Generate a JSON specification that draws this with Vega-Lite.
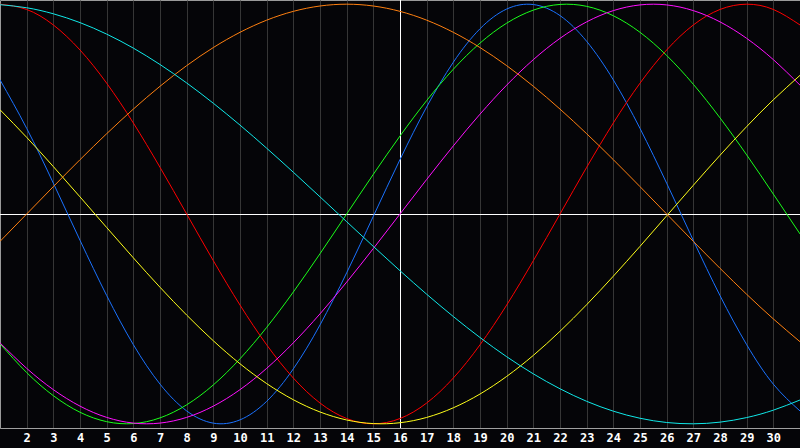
{
  "$schema": "https://vega.github.io/schema/vega-lite/v6.json",
  "width": 800,
  "height": 428,
  "autosize": {"type": "none"},
  "padding": {"left": 0, "top": 0, "right": 0, "bottom": 20},
  "background": "#050508",
  "config": {
    "view": {"stroke": "#9a9a9a", "strokeWidth": 1, "fill": "#050508"},
    "axisX": {
      "title": null, "ticks": false, "grid": true, "gridColor": "#363636", "gridWidth": 1,
      "domain": true, "domainColor": "#a0a0a0", "labelOverlap": false,
      "labelColor": "#ffffff", "labelFont": "DejaVu Sans Mono", "labelFontWeight": "bold",
      "labelFontSize": 12, "labelPadding": 4, "labelFlush": false, "zindex": 0, "tickCount": 30
    }
  },
  "datasets": {
    "bio": [
      {"d":1,"c":"Physical","v":0.6395},{"d":2,"c":"Physical","v":0.4083},{"d":3,"c":"Physical","v":0.1470},{"d":4,"c":"Physical","v":-0.1253},{"d":5,"c":"Physical","v":-0.3884},{"d":6,"c":"Physical","v":-0.6226},{"d":7,"c":"Physical","v":-0.8107},{"d":8,"c":"Physical","v":-0.9386},{"d":9,"c":"Physical","v":-0.9969},{"d":10,"c":"Physical","v":-0.9812},{"d":11,"c":"Physical","v":-0.8929},{"d":12,"c":"Physical","v":-0.7382},{"d":13,"c":"Physical","v":-0.5287},{"d":14,"c":"Physical","v":-0.2801},{"d":15,"c":"Physical","v":-0.0107},{"d":16,"c":"Physical","v":0.2595},{"d":17,"c":"Physical","v":0.5105},{"d":18,"c":"Physical","v":0.7235},{"d":19,"c":"Physical","v":0.8829},{"d":20,"c":"Physical","v":0.9769},{"d":21,"c":"Physical","v":0.9983},{"d":22,"c":"Physical","v":0.9457},{"d":23,"c":"Physical","v":0.8230},{"d":24,"c":"Physical","v":0.6392},{"d":25,"c":"Physical","v":0.4080},{"d":26,"c":"Physical","v":0.1466},{"d":27,"c":"Physical","v":-0.1258},{"d":28,"c":"Physical","v":-0.3889},{"d":29,"c":"Physical","v":-0.6229},{"d":30,"c":"Physical","v":-0.8110},{"d":31,"c":"Physical","v":-0.9388},
      {"d":1,"c":"Emotional","v":1.0},{"d":2,"c":"Emotional","v":0.9749},{"d":3,"c":"Emotional","v":0.9010},{"d":4,"c":"Emotional","v":0.7818},{"d":5,"c":"Emotional","v":0.6235},{"d":6,"c":"Emotional","v":0.4339},{"d":7,"c":"Emotional","v":0.2225},{"d":8,"c":"Emotional","v":0.0},{"d":9,"c":"Emotional","v":-0.2225},{"d":10,"c":"Emotional","v":-0.4339},{"d":11,"c":"Emotional","v":-0.6235},{"d":12,"c":"Emotional","v":-0.7818},{"d":13,"c":"Emotional","v":-0.9010},{"d":14,"c":"Emotional","v":-0.9749},{"d":15,"c":"Emotional","v":-1.0},{"d":16,"c":"Emotional","v":-0.9749},{"d":17,"c":"Emotional","v":-0.9010},{"d":18,"c":"Emotional","v":-0.7818},{"d":19,"c":"Emotional","v":-0.6235},{"d":20,"c":"Emotional","v":-0.4339},{"d":21,"c":"Emotional","v":-0.2225},{"d":22,"c":"Emotional","v":0.0},{"d":23,"c":"Emotional","v":0.2225},{"d":24,"c":"Emotional","v":0.4339},{"d":25,"c":"Emotional","v":0.6235},{"d":26,"c":"Emotional","v":0.7818},{"d":27,"c":"Emotional","v":0.9010},{"d":28,"c":"Emotional","v":0.9749},{"d":29,"c":"Emotional","v":1.0},{"d":30,"c":"Emotional","v":0.9749},{"d":31,"c":"Emotional","v":0.9010},
      {"d":1,"c":"Intellectual","v":-0.6182},{"d":2,"c":"Intellectual","v":-0.7557},{"d":3,"c":"Intellectual","v":-0.8660},{"d":4,"c":"Intellectual","v":-0.9450},{"d":5,"c":"Intellectual","v":-0.9898},{"d":6,"c":"Intellectual","v":-0.9989},{"d":7,"c":"Intellectual","v":-0.9718},{"d":8,"c":"Intellectual","v":-0.9096},{"d":9,"c":"Intellectual","v":-0.8146},{"d":10,"c":"Intellectual","v":-0.6901},{"d":11,"c":"Intellectual","v":-0.5406},{"d":12,"c":"Intellectual","v":-0.3717},{"d":13,"c":"Intellectual","v":-0.1893},{"d":14,"c":"Intellectual","v":0.0},{"d":15,"c":"Intellectual","v":0.1893},{"d":16,"c":"Intellectual","v":0.3717},{"d":17,"c":"Intellectual","v":0.5406},{"d":18,"c":"Intellectual","v":0.6901},{"d":19,"c":"Intellectual","v":0.8146},{"d":20,"c":"Intellectual","v":0.9096},{"d":21,"c":"Intellectual","v":0.9718},{"d":22,"c":"Intellectual","v":0.9989},{"d":23,"c":"Intellectual","v":0.9898},{"d":24,"c":"Intellectual","v":0.9450},{"d":25,"c":"Intellectual","v":0.8660},{"d":26,"c":"Intellectual","v":0.7557},{"d":27,"c":"Intellectual","v":0.6182},{"d":28,"c":"Intellectual","v":0.4582},{"d":29,"c":"Intellectual","v":0.2817},{"d":30,"c":"Intellectual","v":0.0950},{"d":31,"c":"Intellectual","v":-0.0950},
      {"d":1,"c":"Intuitive","v":-0.6142},{"d":2,"c":"Intuitive","v":-0.7357},{"d":3,"c":"Intuitive","v":-0.8372},{"d":4,"c":"Intuitive","v":-0.9158},{"d":5,"c":"Intuitive","v":-0.9694},{"d":6,"c":"Intuitive","v":-0.9966},{"d":7,"c":"Intuitive","v":-0.9966},{"d":8,"c":"Intuitive","v":-0.9694},{"d":9,"c":"Intuitive","v":-0.9158},{"d":10,"c":"Intuitive","v":-0.8372},{"d":11,"c":"Intuitive","v":-0.7357},{"d":12,"c":"Intuitive","v":-0.6142},{"d":13,"c":"Intuitive","v":-0.4759},{"d":14,"c":"Intuitive","v":-0.3247},{"d":15,"c":"Intuitive","v":-0.1646},{"d":16,"c":"Intuitive","v":0.0},{"d":17,"c":"Intuitive","v":0.1646},{"d":18,"c":"Intuitive","v":0.3247},{"d":19,"c":"Intuitive","v":0.4759},{"d":20,"c":"Intuitive","v":0.6142},{"d":21,"c":"Intuitive","v":0.7357},{"d":22,"c":"Intuitive","v":0.8372},{"d":23,"c":"Intuitive","v":0.9158},{"d":24,"c":"Intuitive","v":0.9694},{"d":25,"c":"Intuitive","v":0.9966},{"d":26,"c":"Intuitive","v":0.9966},{"d":27,"c":"Intuitive","v":0.9694},{"d":28,"c":"Intuitive","v":0.9158},{"d":29,"c":"Intuitive","v":0.8372},{"d":30,"c":"Intuitive","v":0.7357},{"d":31,"c":"Intuitive","v":0.6142},
      {"d":1,"c":"Aesthetic","v":0.4970},{"d":2,"c":"Aesthetic","v":0.3654},{"d":3,"c":"Aesthetic","v":0.2260},{"d":4,"c":"Aesthetic","v":0.0816},{"d":5,"c":"Aesthetic","v":-0.0644},{"d":6,"c":"Aesthetic","v":-0.2089},{"d":7,"c":"Aesthetic","v":-0.3491},{"d":8,"c":"Aesthetic","v":-0.4818},{"d":9,"c":"Aesthetic","v":-0.6043},{"d":10,"c":"Aesthetic","v":-0.7139},{"d":11,"c":"Aesthetic","v":-0.8082},{"d":12,"c":"Aesthetic","v":-0.8853},{"d":13,"c":"Aesthetic","v":-0.9436},{"d":14,"c":"Aesthetic","v":-0.9818},{"d":15,"c":"Aesthetic","v":-0.9990},{"d":16,"c":"Aesthetic","v":-0.9949},{"d":17,"c":"Aesthetic","v":-0.9697},{"d":18,"c":"Aesthetic","v":-0.9237},{"d":19,"c":"Aesthetic","v":-0.8581},{"d":20,"c":"Aesthetic","v":-0.7741},{"d":21,"c":"Aesthetic","v":-0.6739},{"d":22,"c":"Aesthetic","v":-0.5590},{"d":23,"c":"Aesthetic","v":-0.4322},{"d":24,"c":"Aesthetic","v":-0.2964},{"d":25,"c":"Aesthetic","v":-0.1542},{"d":26,"c":"Aesthetic","v":-0.0087},{"d":27,"c":"Aesthetic","v":0.1369},{"d":28,"c":"Aesthetic","v":0.2798},{"d":29,"c":"Aesthetic","v":0.4166},{"d":30,"c":"Aesthetic","v":0.5444},{"d":31,"c":"Aesthetic","v":0.6609},
      {"d":1,"c":"Awareness","v":-0.1305},{"d":2,"c":"Awareness","v":0.0},{"d":3,"c":"Awareness","v":0.1305},{"d":4,"c":"Awareness","v":0.2588},{"d":5,"c":"Awareness","v":0.3827},{"d":6,"c":"Awareness","v":0.5},{"d":7,"c":"Awareness","v":0.6088},{"d":8,"c":"Awareness","v":0.7071},{"d":9,"c":"Awareness","v":0.7934},{"d":10,"c":"Awareness","v":0.8660},{"d":11,"c":"Awareness","v":0.9239},{"d":12,"c":"Awareness","v":0.9659},{"d":13,"c":"Awareness","v":0.9914},{"d":14,"c":"Awareness","v":1.0},{"d":15,"c":"Awareness","v":0.9914},{"d":16,"c":"Awareness","v":0.9659},{"d":17,"c":"Awareness","v":0.9239},{"d":18,"c":"Awareness","v":0.8660},{"d":19,"c":"Awareness","v":0.7934},{"d":20,"c":"Awareness","v":0.7071},{"d":21,"c":"Awareness","v":0.6088},{"d":22,"c":"Awareness","v":0.5},{"d":23,"c":"Awareness","v":0.3827},{"d":24,"c":"Awareness","v":0.2588},{"d":25,"c":"Awareness","v":0.1305},{"d":26,"c":"Awareness","v":0.0},{"d":27,"c":"Awareness","v":-0.1305},{"d":28,"c":"Awareness","v":-0.2588},{"d":29,"c":"Awareness","v":-0.3827},{"d":30,"c":"Awareness","v":-0.5},{"d":31,"c":"Awareness","v":-0.6088},
      {"d":1,"c":"Spiritual","v":0.9978},{"d":2,"c":"Spiritual","v":0.9830},{"d":3,"c":"Spiritual","v":0.9543},{"d":4,"c":"Spiritual","v":0.9122},{"d":5,"c":"Spiritual","v":0.8574},{"d":6,"c":"Spiritual","v":0.7907},{"d":7,"c":"Spiritual","v":0.7125},{"d":8,"c":"Spiritual","v":0.6246},{"d":9,"c":"Spiritual","v":0.5278},{"d":10,"c":"Spiritual","v":0.4237},{"d":11,"c":"Spiritual","v":0.3135},{"d":12,"c":"Spiritual","v":0.1990},{"d":13,"c":"Spiritual","v":0.0818},{"d":14,"c":"Spiritual","v":-0.0366},{"d":15,"c":"Spiritual","v":-0.1545},{"d":16,"c":"Spiritual","v":-0.2703},{"d":17,"c":"Spiritual","v":-0.3823},{"d":18,"c":"Spiritual","v":-0.4889},{"d":19,"c":"Spiritual","v":-0.5887},{"d":20,"c":"Spiritual","v":-0.6802},{"d":21,"c":"Spiritual","v":-0.7620},{"d":22,"c":"Spiritual","v":-0.8331},{"d":23,"c":"Spiritual","v":-0.8928},{"d":24,"c":"Spiritual","v":-0.9398},{"d":25,"c":"Spiritual","v":-0.9736},{"d":26,"c":"Spiritual","v":-0.9938},{"d":27,"c":"Spiritual","v":-1.0},{"d":28,"c":"Spiritual","v":-0.9921},{"d":29,"c":"Spiritual","v":-0.9703},{"d":30,"c":"Spiritual","v":-0.9350},{"d":31,"c":"Spiritual","v":-0.8865}
    ],
    "marks": [{"today": 16, "zero": 0}]
  },
  "layer": [
    {
      "data": {"name": "marks"},
      "mark": {"type": "rule", "color": "#ffffff", "strokeWidth": 1, "xOffset": 0.5},
      "encoding": {
        "x": {
          "field": "today", "type": "quantitative",
          "scale": {"domain": [1, 31], "nice": false, "zero": false},
          "axis": {"values": [2,3,4,5,6,7,8,9,10,11,12,13,14,15,16,17,18,19,20,21,22,23,24,25,26,27,28,29,30]}
        }
      }
    },
    {
      "data": {"name": "marks"},
      "mark": {"type": "rule", "color": "#ffffff", "strokeWidth": 1, "yOffset": 0.5},
      "encoding": {
        "y": {"field": "zero", "type": "quantitative", "scale": {"domain": [-1.02, 1.02], "nice": false, "zero": false}, "axis": null}
      }
    },
    {
      "data": {"name": "bio"},
      "mark": {"type": "line", "strokeWidth": 1, "interpolate": "natural", "clip": true},
      "encoding": {
        "x": {
          "field": "d", "type": "quantitative",
          "axis": {"values": [2,3,4,5,6,7,8,9,10,11,12,13,14,15,16,17,18,19,20,21,22,23,24,25,26,27,28,29,30]}
        },
        "y": {"field": "v", "type": "quantitative", "axis": null},
        "color": {
          "field": "c", "type": "nominal", "legend": null,
          "scale": {
            "domain": ["Physical", "Emotional", "Intellectual", "Intuitive", "Aesthetic", "Awareness", "Spiritual"],
            "range": ["#1a72ff", "#ff0000", "#1aff1a", "#ff10ff", "#ffff1a", "#ff8010", "#10e8e8"]
          }
        }
      }
    }
  ]
}
